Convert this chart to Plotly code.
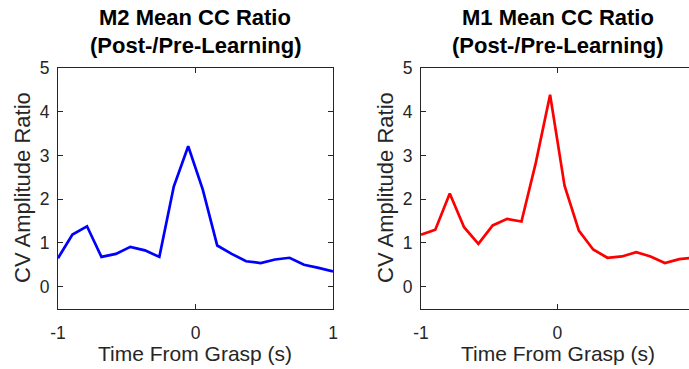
import numpy as np
import plotly.graph_objects as go

# ---- data ----
time_s = [-1.0, -0.895, -0.789, -0.684, -0.579, -0.474, -0.368, -0.263, -0.158, -0.053,
          0.053, 0.158, 0.263, 0.368, 0.474, 0.579, 0.684, 0.789, 0.895, 1.0]
m2_ratio = [0.65, 1.19, 1.38, 0.68, 0.75, 0.91, 0.83, 0.68, 2.29, 3.21,
            2.22, 0.94, 0.75, 0.58, 0.54, 0.62, 0.66, 0.50, 0.43, 0.35]
m1_ratio = [1.19, 1.30, 2.13, 1.36, 0.98, 1.40, 1.55, 1.49, 2.83, 4.39,
            2.31, 1.28, 0.85, 0.66, 0.69, 0.79, 0.69, 0.54, 0.63, 0.66]
y_ticks = [0, 1, 2, 3, 4, 5]
x_ticks_left = [-1, 0, 1]
x_ticks_right = [-1, 0]
titles = ["M2 Mean CC Ratio", "M1 Mean CC Ratio"]
subtitle = "(Post-/Pre-Learning)"
x_label = "Time From Grasp (s)"
y_label = "CV Amplitude Ratio"

W, H = 689, 369
FONT = "Liberation Sans, Arial, Helvetica, sans-serif"
AX = "#262626"

def px(x):
    return x / W

def py(y):
    return 1 - y / H

left_dom = [px(58), px(333)]
right_dom = [px(421), 1.0]
y_dom = [py(308.5), py(68)]

fig = go.Figure()
fig.add_trace(go.Scatter(x=time_s, y=m2_ratio, mode="lines",
                         line=dict(color="#0000FF", width=2.7),
                         xaxis="x", yaxis="y", showlegend=False))
fig.add_trace(go.Scatter(x=time_s, y=m1_ratio, mode="lines",
                         line=dict(color="#FF0000", width=2.7),
                         xaxis="x2", yaxis="y2", showlegend=False))

common_axis = dict(showgrid=False, zeroline=False, showline=True, linecolor=AX,
                   linewidth=1, ticks="inside", ticklen=5, tickcolor=AX, tickwidth=1,
                   automargin=False,
                   tickfont=dict(family=FONT, size=17.5, color=AX))

fig.update_layout(
    width=W, height=H,
    margin=dict(l=0, r=0, t=0, b=0, pad=0),
    paper_bgcolor="white", plot_bgcolor="white",
    xaxis=dict(domain=left_dom, range=[-1, 1], tickvals=x_ticks_left,
               ticktext=[str(v) for v in x_ticks_left], anchor="y",
               mirror="ticks", ticklabelstandoff=8, **common_axis),
    yaxis=dict(domain=y_dom, range=[-0.5, 5], tickvals=y_ticks, anchor="x",
               mirror="ticks", ticklabelstandoff=4, **common_axis),
    xaxis2=dict(domain=right_dom, range=[-1, 0.966], tickvals=x_ticks_right,
                ticktext=[str(v) for v in x_ticks_right], anchor="y2",
                mirror="ticks", ticklabelstandoff=8, **common_axis),
    yaxis2=dict(domain=y_dom, range=[-0.5, 5], tickvals=y_ticks, anchor="x2",
                mirror=False, ticklabelstandoff=4, **common_axis),
)

annos = []
centers = [195.5, 557.5]
for cx, t in zip(centers, titles):
    annos.append(dict(text="<b>%s</b>" % t, x=px(cx), y=py(17), xref="paper", yref="paper",
                      xanchor="center", yanchor="middle", showarrow=False,
                      font=dict(family=FONT, size=22, color="black")))
    annos.append(dict(text="<b>%s</b>" % subtitle, x=px(cx), y=py(45), xref="paper", yref="paper",
                      xanchor="center", yanchor="middle", showarrow=False,
                      font=dict(family=FONT, size=22, color="black")))
    annos.append(dict(text=x_label, x=px(cx), y=py(353), xref="paper", yref="paper",
                      xanchor="center", yanchor="middle", showarrow=False,
                      font=dict(family=FONT, size=21, color=AX)))
for cx in [22, 385]:
    annos.append(dict(text=y_label, x=px(cx), y=py(188), xref="paper", yref="paper",
                      xanchor="center", yanchor="middle", showarrow=False, textangle=-90,
                      font=dict(family=FONT, size=22, color=AX)))
fig.update_layout(annotations=annos)

fig.write_html("out.html", config={"displayModeBar": False},
               post_script="document.body.style.margin='0';document.body.style.overflow='hidden';")
